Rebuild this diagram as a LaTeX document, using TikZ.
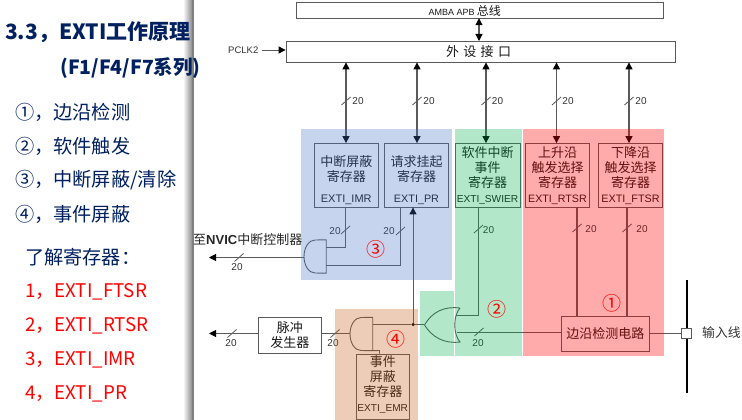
\documentclass[tikz,border=0pt]{standalone}
\usepackage{fontspec}
\setmainfont{Noto Sans CJK SC}
\newfontfamily\latfont{Liberation Sans}
\usetikzlibrary{arrows.meta,shadings}
\definecolor{navyT}{HTML}{002060}
\definecolor{wireC}{HTML}{5A5A5A}
\definecolor{ovB}{RGB}{68,114,196}
\definecolor{ovG}{RGB}{0,176,80}
\definecolor{ovO}{RGB}{197,90,17}
\newcommand\fsz[2]{\fontsize{#1}{#2}\selectfont}
\newcommand\lat[2]{{\latfont\fsz{#1}{12}#2}}
\tikzset{
  x=1pt,y=-1pt,
  regbox/.style={draw=wireC,line width=.8pt,inner sep=0pt,align=center,font=\fsz{13}{15.2},text=black!90},
  regtext/.style={inner sep=0pt,align=center,font=\fsz{13}{15.2},text=black!90},
  wire/.style={draw=wireC,line width=.9pt},
  busarrow/.style={draw=wireC,line width=1.1pt,{Triangle[length=7pt,width=7pt,black]}-{Triangle[length=7pt,width=7pt,black]}},
  outarrow/.style={draw=wireC,line width=.9pt,-{Triangle[length=7pt,width=7pt,black]}},
  ticks/.style={draw=wireC,line width=.8pt},
  num/.style={font=\latfont\fsz{10}{11},text=black!80,inner sep=0pt},
  gate/.style={draw=wireC,line width=.9pt},
  circmark/.style={font=\fsz{19}{20},text=red,inner sep=0pt},
  head/.style={text=navyT,anchor=west,inner sep=0pt,font=\bfseries\fsz{21}{24}},
  item/.style={text=navyT,anchor=west,inner sep=0pt,font=\fsz{19.2}{22}},
  reditem/.style={text=red,anchor=west,inner sep=0pt,font=\fsz{18.8}{22}},
  overlay1/.style={fill opacity=.3,draw=none},
}
\newcommand\tickm[2]{\draw[ticks] (#1-4.5,#2+4) -- (#1+4.5,#2-4);}
\begin{document}
\begin{tikzpicture}
\useasboundingbox (0,0) rectangle (742,420);
\fill[white] (0,0) rectangle (742,420);
% side panel shadow
\shade[left color=white,right color=black!45] (183,0) rectangle (192,420);
\fill[black!50] (192,0) rectangle (193.5,420);

% left text
\node[head] (title1) at (5,32) {3.3，EXTI工作原理};
\node[head,font=\bfseries\fsz{19.5}{22}] (title2) at (60,68) {(F1/F4/F7系列)};
\node[item] (l1) at (15,112) {①，边沿检测};
\node[item] (l2) at (15,146) {②，软件触发};
\node[item] (l3) at (15,180) {③，中断屏蔽/清除};
\node[item] (l4) at (15,214) {④，事件屏蔽};
\node[item] (l5) at (25,257) {了解寄存器：};
\node[reditem] (r1) at (25,291.5) {1，EXTI\_FTSR};
\node[reditem] (r2) at (25,325.5) {2，EXTI\_RTSR};
\node[reditem] (r3) at (25,359.5) {3，EXTI\_IMR};
\node[reditem] (r4) at (25,393.5) {4，EXTI\_PR};

% bars
\node[regbox,minimum width=367,minimum height=15.5] (amba) at (479.5,10.5) {};
\node[regtext,anchor=west] (ambat) at (428.5,11) {{\latfont\fsz{9}{10}AMBA APB}\,{\fsz{12}{12}总线}};
\node[regbox,minimum width=389,minimum height=21] (iface) at (480.5,51.5) {\fsz{13}{14}外\,\,设\,\,接\,\,口\hspace*{4pt}};
\node[inner sep=0pt,anchor=west,font=\latfont\fsz{9.5}{11},text=black!80] (pclk) at (228,50) {PCLK2};

% registers
\node[regbox,minimum width=64.5,minimum height=63.5] (imr) at (346.25,175.25) {};
\node[regtext] (imrt) at (346.25,180) {中断屏蔽\\寄存器\\[5pt]\lat{11}{EXTI\_IMR}};
\node[regbox,minimum width=64,minimum height=63.5] (pr) at (416.5,175.25) {};
\node[regtext] (prt) at (416.5,180) {请求挂起\\寄存器\\[5pt]\lat{10.8}{EXTI\_PR}};
\node[regbox,minimum width=65,minimum height=64] (swier) at (487.5,175.5) {软件中断\\事件\\寄存器\\\lat{10.15}{EXTI\_SWIER}};
\node[regbox,minimum width=64,minimum height=64] (rtsr) at (557.5,175.5) {上升沿\\触发选择\\寄存器\\\lat{10.7}{EXTI\_RTSR}};
\node[regbox,minimum width=64,minimum height=64] (ftsr) at (630.5,175.5) {下降沿\\触发选择\\寄存器\\\lat{10.8}{EXTI\_FTSR}};
\node[regbox,minimum width=53.5,minimum height=65] (emr) at (382.75,386.5) {};
\node[regtext] (emrt) at (382.75,384.5) {事件\\屏蔽\\寄存器\\\lat{10.1}{EXTI\_EMR}};
\node[regbox,minimum width=88.5,minimum height=35] (edge) at (605.25,334) {边沿检测电路};
\node[regbox,minimum width=63.5,minimum height=36] (pulse) at (289.75,335) {脉冲\\发生器};
\node[draw=wireC,line width=.9pt,minimum width=10.5,minimum height=10,inner sep=0pt] (pad) at (686.5,333) {};
\node[inner sep=0pt,anchor=west,font=\fsz{12.8}{14},text=black!80] (inp) at (702,333) {输入线};
\node[inner sep=0pt,anchor=west,font=\fsz{13}{14},text=black!85] (nvic) at (193,239.5) {至{\latfont\bfseries NVIC}中断控制器};

% gate frames (invisible anchors)
\node[inner sep=0pt,minimum width=22,minimum height=33] (and1) at (315,256.5) {};
\node[inner sep=0pt,minimum width=22.5,minimum height=33] (and2) at (361.25,334) {};
\node[inner sep=0pt,minimum width=35.5,minimum height=34] (or1) at (442.25,325) {};
\node[circle,fill=black,minimum size=3.5pt,inner sep=0pt] (dot) at (413,324.5) {};
\coordinate (outa) at (209,257.5);
\coordinate (outb) at (209,333.5);
\coordinate (railtop) at (687,280);
\coordinate (railbot) at (687,392.5);
\coordinate (c1) at (346,0);
\coordinate (c2) at (417,0);
\coordinate (c3) at (486,0);
\coordinate (c4) at (556.5,0);
\coordinate (c5) at (629,0);
\coordinate (w1) at (345.5,247);
\coordinate (w2) at (400.5,265);
\coordinate (w3) at (478.5,315.5);
\coordinate (w4) at (577,316);
\coordinate (w5) at (627,316);
\coordinate (w6) at (379.5,350.5);

% gates
\draw[gate] (and1.north east) -- (315,240) .. controls (308.9,240) and (304,247.4) .. (304,256.5)
            .. controls (304,265.6) and (308.9,273) .. (315,273) -- (and1.south east) -- cycle;
\draw[gate] (and2.north east) -- (361,317.5) .. controls (354.9,317.5) and (350,324.9) .. (350,334)
            .. controls (350,343.1) and (354.9,350.5) .. (361,350.5) -- (and2.south east) -- cycle;
\draw[gate] (460,308) .. controls (444,306) and (432,312) .. (424.5,325)
            .. controls (432,337) and (444,344) .. (460,342)
            .. controls (453,334) and (453,316) .. (460,308);

% connectors
\draw[busarrow] (479,18.25) -- (479,41);
\draw[outarrow] (pclk.east) ++(3,0) -- (iface.west |- pclk);
\foreach \c/\r in {c1/imr,c2/pr,c3/swier,c4/rtsr,c5/ftsr}
  \draw[busarrow] (iface.south -| \c) -- (\r.north -| \c);
\draw[wire] (imr.south -| w1) -- (w1) -- (and1.east |- w1);
\draw[wire] (pr.south -| w2) -- (w2) -- (and1.east |- w2);
\draw[outarrow] (and1.west |- outa) -- (outa);
\draw[outarrow] (pulse.west |- outb) -- (outb);
\draw[wire] (pulse.east |- outb) -- (and2.west |- outb);
\draw[wire] (and2.east |- dot) -- (dot);
\draw[wire] (dot) -- (or1.west |- dot);
\draw[wire] (and2.south east) -- (w6) -- (emr.north -| w6);
\draw[draw=wireC,line width=1pt,-{Triangle[length=7pt,width=7pt,black]}] (dot) -- (pr.south -| dot);
\draw[wire] (swier.south -| w3) -- (w3) -- (456,315.5);
\draw[wire] (edge.west |- 0,332) -- (456.5,332);
\draw[wire,line width=1.2pt] (rtsr.south -| w4) -- (edge.north -| w4);
\draw[wire,line width=1.2pt] (ftsr.south -| w5) -- (edge.north -| w5);
\draw[wire] (edge.east |- pad) -- (pad.west);
\draw[black,line width=1.5pt] (railtop) -- (railbot);
\node[fill=white,draw=wireC,line width=.9pt,minimum width=10.5,minimum height=10,inner sep=0pt] (padtop) at (pad) {};

% bus ticks and numbers
\foreach \x/\y in {346/101,417/101,486/101,556.5/101,629/101,345.5/230,400.5/231,478.5/229,577/228,627/228,239/257.5,232/333.5,335/333.5,479/332}{ \tickm{\x}{\y} }
\node[num] (n1) at (358,101) {20};
\node[num] (n2) at (429,101) {20};
\node[num] (n3) at (497.5,101.5) {20};
\node[num] (n4) at (568,101.5) {20};
\node[num] (n5) at (641,101.5) {20};
\node[num] (n6) at (335,231) {20};
\node[num] (n7) at (389,231) {20};
\node[num] (n8) at (488.5,230) {20};
\node[num] (n9) at (591,229.5) {20};
\node[num] (n10) at (642,229) {20};
\node[num] (n11) at (237,267) {20};
\node[num] (n12) at (231,343) {20};
\node[num] (n13) at (333,343) {20};
\node[num] (n14) at (478,343) {20};

% coloured overlays
\fill[overlay1,fill=ovB] (301,129) rectangle (452,280);
\fill[overlay1,fill=ovG] (454.5,129) rectangle (522,356);
\fill[overlay1,fill=ovG] (420,291) rectangle (454,356);
\fill[fill opacity=.33,fill=red] (523,129) rectangle (664,356);
\fill[overlay1,fill=ovO] (335,309) rectangle (418,420);

% marks
\node[circmark] (m1) at (612,303) {①};
\node[circmark] (m2) at (497,309) {②};
\node[circmark] (m3) at (376,249.5) {③};
\node[circmark] (m4) at (396,339) {④};
\end{tikzpicture}
\end{document}
